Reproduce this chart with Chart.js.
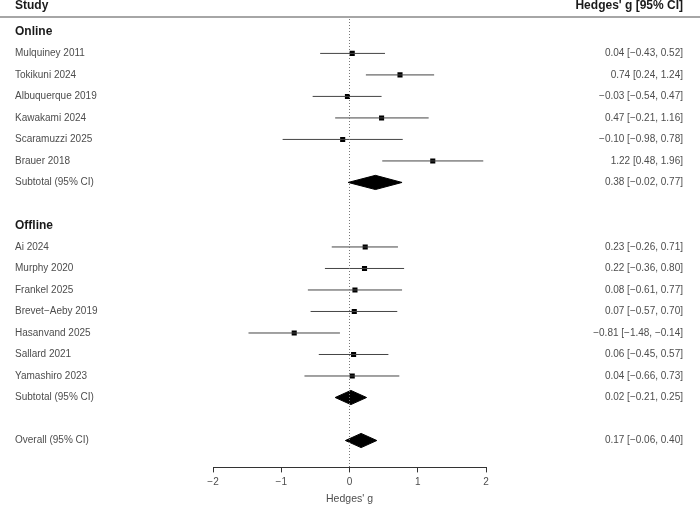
<!DOCTYPE html>
<html lang="en">
<head>
<meta charset="utf-8">
<title>Forest plot</title>
<script src="https://cdn.jsdelivr.net/npm/chart.js@4.4.1/dist/chart.umd.min.js"></script>
<style>
  html, body { margin: 0; padding: 0; background: #fff; }
</style>
</head>
<body>
<div style="position: relative; width: 700px; height: 505px;">
  <canvas id="forest"></canvas>
</div>
<script>
// studies, grouped
var onlineStudies = ['Mulquiney 2011', 'Tokikuni 2024', 'Albuquerque 2019', 'Kawakami 2024', 'Scaramuzzi 2025', 'Brauer 2018'];
var onlineEst = [0.04, 0.74, -0.03, 0.47, -0.10, 1.22];
var onlineLo  = [-0.43, 0.24, -0.54, -0.21, -0.98, 0.48];
var onlineHi  = [0.52, 1.24, 0.47, 1.16, 0.78, 1.96];

var offlineStudies = ['Ai 2024', 'Murphy 2020', 'Frankel 2025', 'Brevet\u2212Aeby 2019', 'Hasanvand 2025', 'Sallard 2021', 'Yamashiro 2023'];
var offlineEst = [0.23, 0.22, 0.08, 0.07, -0.81, 0.06, 0.04];
var offlineLo  = [-0.26, -0.36, -0.61, -0.57, -1.48, -0.45, -0.66];
var offlineHi  = [0.71, 0.80, 0.77, 0.70, -0.14, 0.57, 0.73];

// pooled: [estimate, lower, upper]
var onlineSubtotal  = [0.38, -0.02, 0.77];
var offlineSubtotal = [0.02, -0.21, 0.25];
var overall         = [0.17, -0.06, 0.40];

var xTicks = [-2, -1, 0, 1, 2];

// row layout (row index from the top)
var rows = [];
rows.push({row: 0, label: 'Online', kind: 'group'});
onlineStudies.forEach(function (s, i) {
	rows.push({row: 1 + i, label: s, kind: 'study', est: onlineEst[i], lo: onlineLo[i], hi: onlineHi[i]});
});
rows.push({row: 7, label: 'Subtotal (95% CI)', kind: 'pooled', est: onlineSubtotal[0], lo: onlineSubtotal[1], hi: onlineSubtotal[2]});
rows.push({row: 9, label: 'Offline', kind: 'group'});
offlineStudies.forEach(function (s, i) {
	rows.push({row: 10 + i, label: s, kind: 'study', est: offlineEst[i], lo: offlineLo[i], hi: offlineHi[i]});
});
rows.push({row: 17, label: 'Subtotal (95% CI)', kind: 'pooled', est: offlineSubtotal[0], lo: offlineSubtotal[1], hi: offlineSubtotal[2]});
rows.push({row: 19, label: 'Overall (95% CI)', kind: 'pooled', est: overall[0], lo: overall[1], hi: overall[2]});

var Y_MIN = -0.6, Y_MAX = 20.25, HEADER_ROW = -1.2;

function fmt(v) {
	return v.toFixed(2).replace('-', '\u2212');
}

var ciData = [], pointData = [], _datasets = [];
rows.forEach(function (r) {
	if (r.kind == 'study') {
		ciData.push({x: r.lo, y: r.row}, {x: r.hi, y: r.row}, {x: null, y: null});
		pointData.push({x: r.est, y: r.row});
	}
});

// null line
_datasets.push({
	data: [{x: 0, y: Y_MIN}, {x: 0, y: Y_MAX}],
	showLine: true, borderColor: '#777', borderWidth: 1, borderDash: [1, 2],
	pointRadius: 0,
});
_datasets.push({
	data: ciData, showLine: true, spanGaps: false,
	borderColor: '#444', borderWidth: 1, pointRadius: 0,
});
_datasets.push({
	data: pointData, pointStyle: 'rect', pointRadius: 3.6,
	backgroundColor: '#000', borderColor: '#000', borderWidth: 0,
});
rows.forEach(function (r) {
	if (r.kind != 'pooled') return;
	var h = 0.33;
	_datasets.push({
		data: [{x: r.lo, y: r.row}, {x: r.est, y: r.row - h}, {x: r.hi, y: r.row}, {x: r.est, y: r.row + h}, {x: r.lo, y: r.row}],
		showLine: true, fill: 'shape', tension: 0,
		borderColor: '#000', backgroundColor: '#000', borderWidth: 1, pointRadius: 0,
	});
});

var tablePlugin = {
	id: 'table',
	afterDraw: function (chart) {
		var ctx = chart.ctx, ys = chart.scales.y;
		var left = 15, right = 683;
		ctx.save();
		ctx.textBaseline = 'middle';
		// header
		var hy = ys.getPixelForValue(HEADER_ROW);
		ctx.font = 'bold 12px "Liberation Sans", Arial, sans-serif';
		ctx.fillStyle = '#1a1a1a';
		ctx.textAlign = 'left';
		ctx.fillText('Study', left, hy);
		ctx.textAlign = 'right';
		ctx.fillText('Hedges\' g [95% CI]', right, hy);
		ctx.strokeStyle = '#888';
		ctx.lineWidth = 1.5;
		ctx.beginPath();
		var ly = Math.round(ys.getPixelForValue(-0.7));
		ctx.moveTo(0, ly);
		ctx.lineTo(chart.width, ly);
		ctx.stroke();
		rows.forEach(function (r) {
			var y = ys.getPixelForValue(r.row);
			if (r.kind == 'group') {
				ctx.font = 'bold 12px "Liberation Sans", Arial, sans-serif';
				ctx.fillStyle = '#1a1a1a';
				ctx.textAlign = 'left';
				ctx.fillText(r.label, left, y);
				return;
			}
			ctx.font = '10px "Liberation Sans", Arial, sans-serif';
			ctx.fillStyle = '#4d4d4d';
			ctx.textAlign = 'left';
			ctx.fillText(r.label, left, y);
			ctx.textAlign = 'right';
			ctx.fillText(fmt(r.est) + ' [' + fmt(r.lo) + ', ' + fmt(r.hi) + ']', right, y);
		});
		ctx.restore();
	}
};

new Chart(document.getElementById('forest').getContext('2d'), {
	type: 'scatter',
	data: {datasets: _datasets},
	options: {
		responsive: true,
		maintainAspectRatio: false,
		animation: false,
		layout: {padding: {left: 213, right: 214, top: 19, bottom: 0}},
		plugins: {legend: {display: false}, tooltip: {enabled: false}},
		scales: {
			x: {
				type: 'linear', min: -2, max: 2,
				afterBuildTicks: function (axis) { axis.ticks = xTicks.map(function (v) { return {value: v}; }); },
				ticks: {
					color: '#4d4d4d', padding: 4,
					font: {family: '"Liberation Sans", Arial, sans-serif', size: 10},
					callback: function (v) { return String(v).replace('-', '\u2212'); },
				},
				grid: {drawOnChartArea: false, drawTicks: true, tickLength: 5, color: '#333'},
				border: {display: true, color: '#333', width: 1},
				title: {
					display: true, text: 'Hedges\' g', color: '#4d4d4d',
					font: {family: '"Liberation Sans", Arial, sans-serif', size: 10.5},
					padding: {top: 0, bottom: 0},
				},
			},
			y: {type: 'linear', reverse: true, min: Y_MIN, max: Y_MAX, display: false},
		},
	},
	plugins: [tablePlugin],
});
</script>
</body>
</html>
